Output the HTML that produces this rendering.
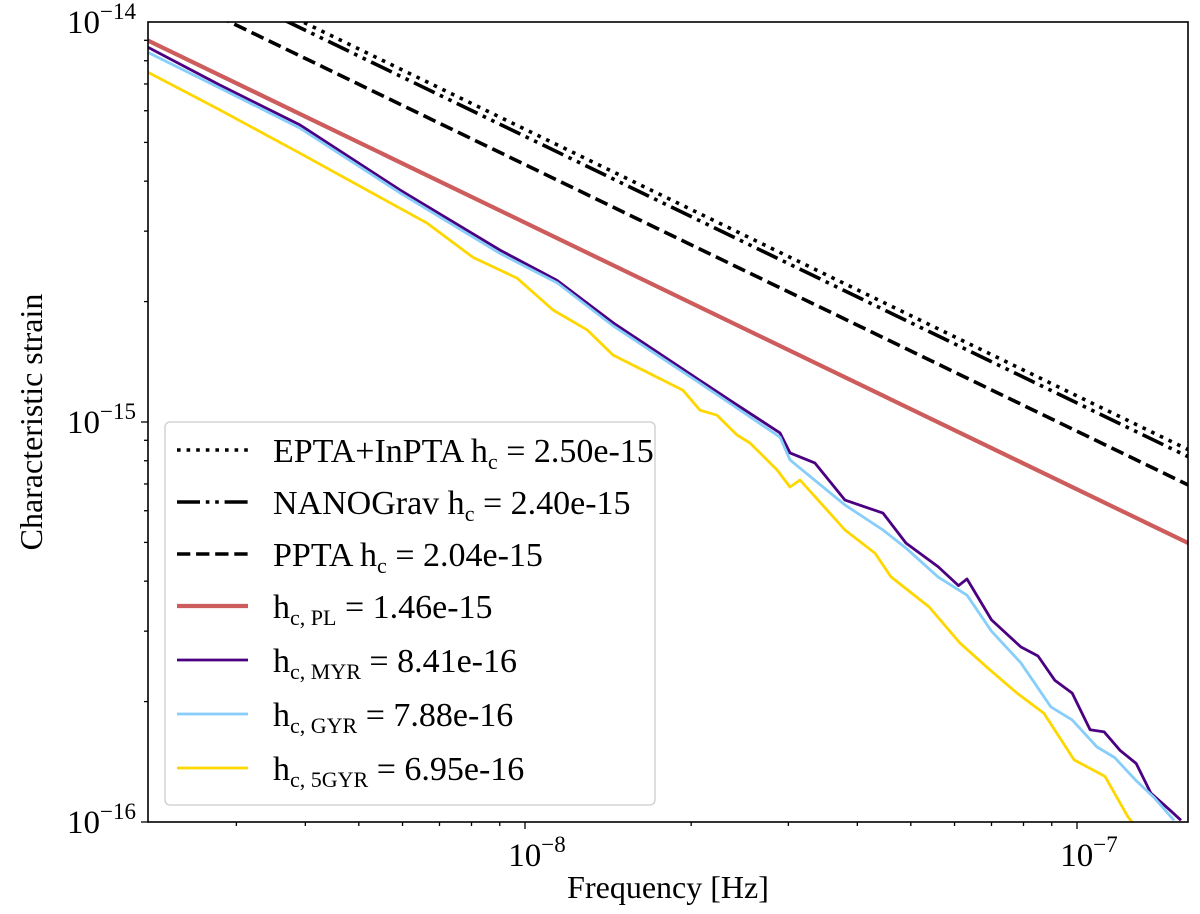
<!DOCTYPE html>
<html><head><meta charset="utf-8"><style>
html,body{margin:0;padding:0;background:#fff;}
svg{display:block;font-family:"Liberation Serif","DejaVu Serif",serif;}
</style></head><body>
<svg id="chart" width="1200" height="914" viewBox="0 0 1200 914">
<rect x="0" y="0" width="1200" height="914" fill="#fff"/>
<defs><clipPath id="pc"><rect x="148" y="22" width="1040" height="800"/></clipPath></defs>
<g id="series" clip-path="url(#pc)"></g>
<rect x="148" y="22" width="1040" height="800" fill="none" stroke="#000" stroke-width="1.6"/>
<g id="ticks"></g>
<text x="42" y="422" font-size="32" text-anchor="middle" transform="rotate(-90 42 422)">Characteristic strain</text>
<text x="668" y="898" font-size="32" text-anchor="middle">Frequency [Hz]</text>
<g id="legend">
<rect x="165" y="422" width="490" height="383" rx="5" fill="#fff" fill-opacity="0.85" stroke="#ccc" stroke-width="1.3"/>
</g>
</svg>
<script>
// data (frequency in nHz, strain in units of 1e-16)
const plNames = ["EPTA+InPTA", "NANOGrav", "PPTA", "PL"];
const plAmps = [2.50e-15, 2.40e-15, 2.04e-15, 1.46e-15];
const myrFreq = [2.07,2.80,3.91,5.94,9.01,11.43,14.44,20.75,23.81,28.97,30.20,33.5,37.99,44.52,49.0,56.0,61.0,63.2,70.0,79.1,85.0,91.2,98.0,105.6,112.0,119.7,128.0,136.1,147.4,154.3];
const myrH = [86.6,69.6,55.3,38.0,26.9,22.6,17.7,12.7,11.2,9.39,8.37,7.9,6.38,5.92,4.98,4.35,3.9,4.05,3.2,2.74,2.6,2.26,2.1,1.70,1.68,1.51,1.40,1.18,1.07,1.01];
const gyrFreq = [2.07,2.80,3.91,5.94,9.01,11.43,14.44,20.75,23.81,28.97,30.20,37.99,44.52,49.0,56.0,63.2,70.0,79.1,89.7,98.0,108.7,117.0,127.9,138.0,149.9];
const gyrH = [84.1,68.4,54.3,37.4,26.4,22.3,17.4,12.5,11.0,9.17,8.04,6.20,5.37,4.84,4.1,3.69,3.0,2.50,1.94,1.80,1.54,1.45,1.27,1.15,1.01];
const g5Freq = [2.07,2.80,3.91,6.65,8.05,9.67,11.24,12.95,14.44,19.33,20.75,22.28,24.21,25.56,28.61,30.20,31.49,37.99,43.05,46.03,53.95,61.38,69.57,77.86,87.1,98.8,112.4,123.7,125.8];
const g5H = [75.0,60.3,47.0,31.4,25.8,22.9,19.05,17.0,14.7,12.0,10.7,10.4,9.28,8.86,7.59,6.88,7.16,5.37,4.70,4.10,3.45,2.80,2.40,2.10,1.87,1.43,1.30,1.03,1.0];
const yTickLabels = ["−14","−15","−16"];
const xTickLabels = ["−8","−7"];

const NS = "http://www.w3.org/2000/svg";
const X0 = 525, XD = 552, Y0 = 22, YD = 400;
function xs(fHz){ return X0 + (Math.log10(fHz) + 8) * XD; }
function ys(h){ return Y0 + (-14 - Math.log10(h)) * YD; }
const fyr = 1/(365.25*86400);
const series = document.getElementById('series');
function mk(tag, attrs, parent){ const e=document.createElementNS(NS,tag); for(const k in attrs) e.setAttribute(k,attrs[k]); parent.appendChild(e); return e; }

const plStyles = [
 {c:"#000", w:3.6, d:"3.6,6"},
 {c:"#000", w:3.6, d:"23,5.8,3.6,5.8,3.6,5.8"},
 {c:"#000", w:3.6, d:"13.3,5.8"},
 {c:"#cd5c5c", w:4.2, d:""}
];
const plKeys = ["epta-line","nanograv-line","ppta-line","power-law-line"];
for (let i=0;i<plAmps.length;i++){
  const f1=1.8e-9, f2=1.8e-7;
  const h1=plAmps[i]*Math.pow(f1/fyr,-2/3), h2=plAmps[i]*Math.pow(f2/fyr,-2/3);
  const p = mk('path',{d:`M${xs(f1)},${ys(h1)} L${xs(f2)},${ys(h2)}`, fill:"none", stroke:plStyles[i].c, "stroke-width":plStyles[i].w, "stroke-dasharray":plStyles[i].d}, series);
  
  
}
function curve(fr, hh, color, w, name){
  let d="";
  for(let i=0;i<fr.length;i++){ d += (i?"L":"M") + xs(fr[i]*1e-9).toFixed(1) + "," + ys(hh[i]*1e-16).toFixed(1); }
  const p = mk('path',{d:d, fill:"none", stroke:color, "stroke-width":w, "stroke-linejoin":"round"}, series);
  
  
}
curve(myrFreq, myrH, "#4b0082", 2.8, "myr-curve");
curve(gyrFreq, gyrH, "#87cefa", 2.8, "gyr-curve");
curve(g5Freq, g5H, "#ffd700", 2.8, "5gyr-curve");

// ticks
const tk = document.getElementById('ticks');
for (let e=-16;e<=-15;e++){
  for (let m=1;m<=9;m++){
    const y = ys(m*Math.pow(10,e));
    const len = m===1?7:4;
    const l = mk('line',{x1:148-len,x2:148,y1:y,y2:y,stroke:"#000","stroke-width":1.3},tk);
    
    
  }
}
for (let i=0;i<yTickLabels.length;i++){
  const y = ys(Math.pow(10,-14-i));
  const t = mk('text',{x:136,y:y+11,"font-size":33,"text-anchor":"end"},tk);
  t.innerHTML = `10<tspan dy="-14" font-size="23">${yTickLabels[i]}</tspan>`;
  
  
}
for (let e=-9;e<=-7;e++){
  for (let m=1;m<=9;m++){
    const f=m*Math.pow(10,e); const x=xs(f);
    if (x<148||x>1188) continue;
    const len = m===1?7:4;
    const l = mk('line',{x1:x,x2:x,y1:822,y2:822+len,stroke:"#000","stroke-width":1.3},tk);
    
    
  }
}
for (let i=0;i<xTickLabels.length;i++){
  const x = xs(Math.pow(10,-8+i));
  const t = mk('text',{x:x+12,y:866,"font-size":33,"text-anchor":"middle"},tk);
  t.innerHTML = `10<tspan dy="-14" font-size="23">${xTickLabels[i]}</tspan>`;
  
  
}

// legend
const lg = document.getElementById('legend');
const entries = [
 {c:"#000",w:3.6,d:"3.6,6",lab:'EPTA+InPTA h<tspan font-size="22" dy="7">c</tspan><tspan dy="-7"> = 2.50e-15</tspan>'},
 {c:"#000",w:3.6,d:"23,5.8,3.6,5.8,3.6,5.8",lab:'NANOGrav h<tspan font-size="22" dy="7">c</tspan><tspan dy="-7"> = 2.40e-15</tspan>'},
 {c:"#000",w:3.6,d:"13.3,5.8",lab:'PPTA h<tspan font-size="22" dy="7">c</tspan><tspan dy="-7"> = 2.04e-15</tspan>'},
 {c:"#cd5c5c",w:4.2,d:"",lab:'h<tspan font-size="22" dy="7">c, PL</tspan><tspan dy="-7"> = 1.46e-15</tspan>'},
 {c:"#4b0082",w:2.8,d:"",lab:'h<tspan font-size="22" dy="7">c, MYR</tspan><tspan dy="-7"> = 8.41e-16</tspan>'},
 {c:"#87cefa",w:2.8,d:"",lab:'h<tspan font-size="22" dy="7">c, GYR</tspan><tspan dy="-7"> = 7.88e-16</tspan>'},
 {c:"#ffd700",w:2.8,d:"",lab:'h<tspan font-size="22" dy="7">c, 5GYR</tspan><tspan dy="-7"> = 6.95e-16</tspan>'}
];
const rowY = [450,502,554,606,660,714,768];
entries.forEach((en,i)=>{
  const g = mk('g',{},lg);
  
  
  mk('line',{x1:177,x2:248,y1:rowY[i],y2:rowY[i],stroke:en.c,"stroke-width":en.w,"stroke-dasharray":en.d},g);
  const t = mk('text',{x:273,y:rowY[i]+12,"font-size":34},g);
  t.innerHTML = en.lab;
});
</script>
</body></html>
